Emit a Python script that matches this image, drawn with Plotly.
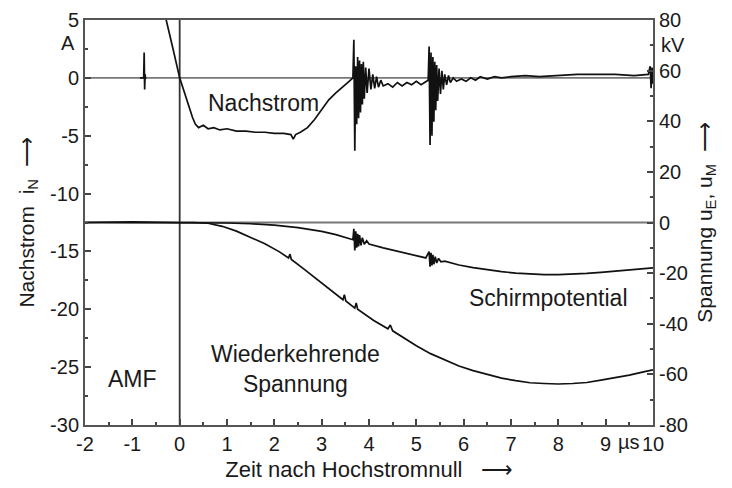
import plotly.graph_objects as go

# ---------------- data ----------------
# Nachstrom i_N (A) vs time (µs)
t_nach = [-0.40, -0.28, -0.14, 0.00, 0.10, 0.19, 0.27, 0.33, 0.40, 0.50,
          0.60, 0.72, 0.85, 1.00, 1.20, 1.40, 1.60, 1.80, 2.00, 2.20,
          2.35, 2.40, 2.45, 2.55, 2.70, 2.85, 3.00, 3.15, 3.30, 3.45,
          3.58, 3.66, 3.68, 3.70, 3.72, 3.74, 3.76, 3.78, 3.80, 3.82,
          3.84, 3.86, 3.88, 3.90, 3.93, 3.96, 4.00, 4.04, 4.08, 4.12,
          4.16, 4.20, 4.25, 4.30, 4.40, 4.50, 4.60, 4.70, 4.80, 4.90,
          5.00, 5.10, 5.20, 5.25, 5.27, 5.29, 5.31, 5.33, 5.35, 5.37,
          5.39, 5.41, 5.43, 5.45, 5.48, 5.51, 5.54, 5.57, 5.60, 5.64,
          5.68, 5.72, 5.78, 5.85, 5.95, 6.05, 6.15, 6.25, 6.35, 6.50,
          6.65, 6.80, 7.00, 7.30, 7.60, 8.00, 8.40, 8.80, 9.20, 9.60,
          9.90, 9.94, 9.96, 9.98, 10.00]
i_nach = [7.0, 5.0, 2.5, 0.0, -1.3, -2.4, -3.4, -4.0, -4.3, -4.1,
          -4.4, -4.3, -4.5, -4.4, -4.6, -4.6, -4.7, -4.7, -4.8, -4.8,
          -4.9, -5.3, -4.9, -4.7, -4.3, -3.6, -2.8, -1.9, -1.3, -0.8,
          -0.3, 0.0, 3.3, -6.3, 1.0, -4.0, 1.8, -3.5, 1.5, -3.0,
          1.2, -2.3, 1.4, -1.8, 0.9, -1.3, 0.8, -1.0, 0.3, -0.9,
          0.1, -0.8, -0.2, -0.7, -0.5, -0.8, -0.4, -0.7, -0.4, -0.6,
          -0.3, -0.6, -0.3, -0.2, 2.7, -5.8, 2.2, -5.0, 1.8, -3.8,
          1.4, -2.8, 1.1, -2.0, 0.8, -1.4, 0.6, -1.0, 0.3, -0.6,
          0.2, -0.4, 0.0, -0.3, -0.1, -0.3, 0.0, -0.2, 0.1, -0.1,
          0.1, 0.0, 0.1, 0.2, 0.1, 0.2, 0.3, 0.3, 0.3, 0.2,
          0.3, 1.0, -0.9, 0.9, -0.5]

# short spike before current zero
t_spike = [-0.84, -0.76, -0.75, -0.74, -0.73, -0.72]
i_spike = [0.0, 0.0, 2.2, -1.0, 0.3, -0.1]

# Wiederkehrende Spannung (kV)
t_wk = [-2.0, -1.0, 0.0, 0.3, 0.6, 0.9, 1.2, 1.5, 1.8, 2.1,
        2.3, 2.33, 2.36, 2.6, 2.9, 3.2, 3.45, 3.48, 3.51, 3.7,
        3.73, 3.76, 4.1, 4.4, 4.45, 4.5, 4.7, 5.0, 5.3, 5.6,
        5.9, 6.2, 6.5, 6.8, 7.1, 7.4, 7.7, 8.0, 8.3, 8.6,
        8.9, 9.2, 9.5, 9.8, 10.0]
u_wk = [0.0, 0.3, 0.0, 0.0, -0.3, -1.5, -3.4, -5.8, -8.4, -11.5,
        -14.0, -12.5, -14.6, -18.0, -22.5, -27.0, -30.5, -28.5, -31.0, -33.8,
        -31.8, -34.3, -38.7, -42.0, -40.5, -42.8, -45.2, -48.7, -51.8, -54.4,
        -56.7, -58.5, -60.1, -61.5, -62.5, -63.3, -63.6, -63.8, -63.6, -63.2,
        -62.3, -61.3, -60.3, -59.0, -58.2]

# Schirmpotential (kV)
t_sp = [-2.0, -1.0, 0.0, 0.5, 1.0, 1.5, 2.0, 2.5, 3.0, 3.3,
        3.55, 3.66, 3.68, 3.70, 3.72, 3.74, 3.76, 3.78, 3.80, 3.83,
        3.86, 3.90, 3.95, 4.0, 4.3, 4.6, 4.9, 5.2, 5.27, 5.29,
        5.31, 5.33, 5.35, 5.37, 5.40, 5.43, 5.47, 5.52, 5.6, 5.9,
        6.2, 6.5, 6.8, 7.1, 7.4, 7.7, 8.0, 8.3, 8.6, 8.9,
        9.2, 9.5, 9.8, 10.0]
u_sp = [0.0, 0.0, 0.0, 0.0, -0.2, -0.5, -1.0, -2.0, -3.5, -4.8,
        -6.2, -6.8, -2.5, -11.0, -3.5, -10.0, -4.5, -9.5, -5.0, -9.0,
        -6.0, -8.6, -7.2, -8.5, -10.0, -11.3, -12.8, -14.0, -11.5, -17.5,
        -12.0, -17.0, -12.8, -16.5, -13.5, -16.0, -14.2, -15.5, -15.3, -16.8,
        -17.8, -18.7, -19.4, -20.0, -20.4, -20.6, -20.6, -20.4, -20.1, -19.7,
        -19.2, -18.7, -18.2, -17.9]

# axis ranges / tick labels
x_range = [-2, 10]
i_range = [-30, 5]
u_range = [-80, 80]
x_ticks = [-2, -1, 0, 1, 2, 3, 4, 5, 6, 7, 8, 9, 10]
x_labels = ["-2", "-1", "0", "1", "2", "3", "4", "5", "6", "7", "8", "9", "10"]
i_ticks = [5, 0, -5, -10, -15, -20, -25, -30]
i_labels = ["5", "0", "-5", "-10", "-15", "-20", "-25", "-30"]
u_ticks = [80, 60, 40, 20, 0, -20, -40, -60, -80]
u_labels = ["80", "60", "40", "20", "0", "-20", "-40", "-60", "-80"]

FONT = "Liberation Sans, Arial, sans-serif"
INK = "#1a1a1a"
TRACE = "#111111"

fig = go.Figure()
fig.add_trace(go.Scatter(x=t_nach, y=i_nach, mode="lines",
                         line=dict(color=TRACE, width=1.7), yaxis="y",
                         showlegend=False, hoverinfo="skip"))
fig.add_trace(go.Scatter(x=t_spike, y=i_spike, mode="lines",
                         line=dict(color=TRACE, width=1.7), yaxis="y",
                         showlegend=False, hoverinfo="skip"))
fig.add_trace(go.Scatter(x=t_wk, y=u_wk, mode="lines",
                         line=dict(color=TRACE, width=1.7), yaxis="y2",
                         showlegend=False, hoverinfo="skip"))
fig.add_trace(go.Scatter(x=t_sp, y=u_sp, mode="lines",
                         line=dict(color=TRACE, width=1.7), yaxis="y2",
                         showlegend=False, hoverinfo="skip"))

# reference lines
fig.add_shape(type="line", xref="paper", x0=0, x1=1, yref="y", y0=0, y1=0,
              line=dict(color="#777777", width=1.8), layer="below")
fig.add_shape(type="line", xref="paper", x0=0, x1=1, yref="y2", y0=0, y1=0,
              line=dict(color="#777777", width=1.8), layer="below")
fig.add_shape(type="line", xref="x", x0=0, x1=0, yref="paper", y0=0, y1=1,
              line=dict(color="#333333", width=1.8), layer="below")

tickfont = dict(family=FONT, size=20, color=INK)
axis_common = dict(showgrid=False, zeroline=False, showline=True,
                   linecolor="#555555", linewidth=2, ticks="inside",
                   tickcolor="#444444", tickwidth=1.5, ticklen=6,
                   tickfont=tickfont, automargin=False)
title_font = dict(family=FONT, size=21, color=INK)

fig.update_layout(
    width=732, height=488,
    margin=dict(l=85, r=79, t=20, b=63),
    paper_bgcolor="white", plot_bgcolor="white",
    xaxis=dict(range=x_range, mirror=True,
               minor=dict(dtick=0.5, tick0=0, ticks="inside", ticklen=3,
                          tickcolor="#444444", tickwidth=1.5),
               tickmode="array", tickvals=x_ticks, ticktext=x_labels,
               title=dict(text="Zeit nach Hochstromnull   \u27f6",
                          font=dict(family=FONT, size=22, color=INK),
                          standoff=8),
               **axis_common),
    yaxis=dict(range=i_range,
               tickmode="array", tickvals=i_ticks, ticktext=i_labels,
               minor=dict(dtick=2.5, tick0=0, ticks="inside", ticklen=3,
                          tickcolor="#444444", tickwidth=1.5),
               title=dict(text="Nachstrom  i<sub>N</sub>  \u27f6",
                          font=title_font, standoff=10),
               **axis_common),
    yaxis2=dict(range=u_range, overlaying="y", side="right",
                tickmode="array", tickvals=u_ticks, ticktext=u_labels,
                minor=dict(dtick=10, tick0=0, ticks="inside", ticklen=3,
                           tickcolor="#444444", tickwidth=1.5),
                title=dict(text="Spannung u<sub>E</sub>, u<sub>M</sub>  \u27f6",
                           font=title_font, standoff=10),
                **axis_common),
)

# unit labels
ann_font = dict(family=FONT, size=20, color=INK)
fig.add_annotation(text="A", xref="paper", x=0, xanchor="right", xshift=-8,
                   yref="y", y=3.0, showarrow=False, font=ann_font)
fig.add_annotation(text="kV", xref="paper", x=1, xanchor="left", xshift=6,
                   yref="y2", y=70, showarrow=False, font=ann_font)
fig.add_annotation(text="\u00b5s", xref="x", x=9.5, yref="paper", y=0,
                   yanchor="top", yshift=-4, showarrow=False, font=ann_font)

# in-plot labels
lab_font = dict(family=FONT, size=23, color=INK)
fig.add_annotation(text="Nachstrom", xref="x", x=1.78, yref="y", y=-2.2,
                   showarrow=False, font=lab_font)
fig.add_annotation(text="Schirmpotential", xref="x", x=7.8, yref="y2", y=-30,
                   showarrow=False, font=lab_font)
fig.add_annotation(text="Wiederkehrende<br>Spannung", xref="x", x=2.45,
                   yref="y2", y=-58, showarrow=False, font=lab_font)
fig.add_annotation(text="AMF", xref="x", x=-1.0, yref="y2", y=-62,
                   showarrow=False, font=lab_font)

fig.write_html("out.html")
